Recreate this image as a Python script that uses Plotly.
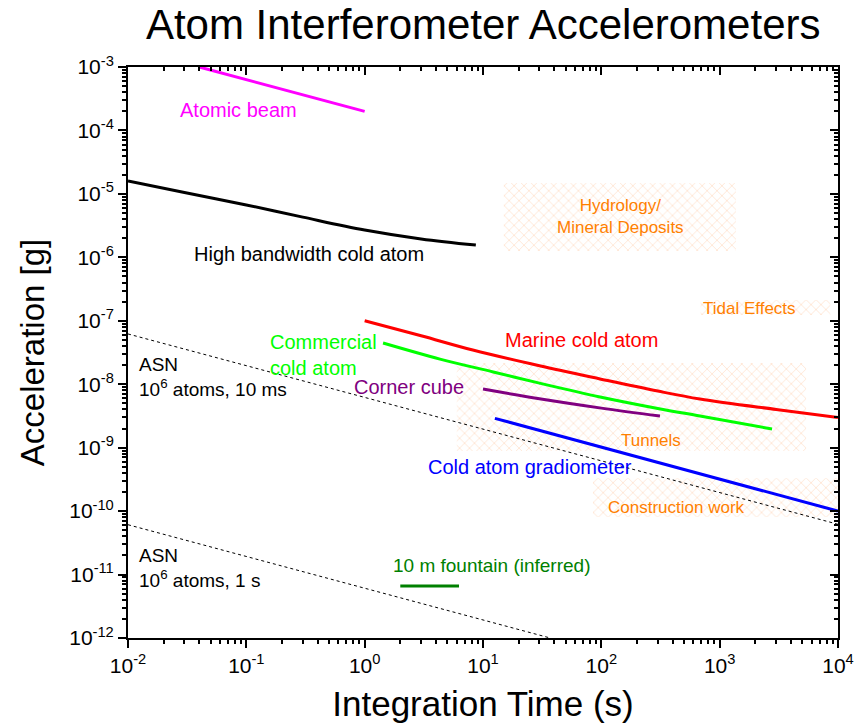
import plotly.graph_objects as go

# ---------------- data ----------------
beam_t = [0.04, 1.0]
beam_a = [1.0e-3, 2.0e-4]

hb_t = [0.01, 0.03, 0.1, 0.3, 1.0, 3.0, 8.7]
hb_a = [1.6e-5, 1.05e-5, 6.7e-6, 4.3e-6, 2.7e-6, 1.95e-6, 1.56e-6]

marine_t = [1.0, 3.0, 8.2, 30, 97.5, 300, 682, 3000, 10000]
marine_a = [1.0e-7, 5.8e-8, 3.46e-8, 1.95e-8, 1.21e-8, 7.8e-9, 5.85e-9, 4.0e-9, 3.0e-9]

comm_t = [1.43, 4.33, 12.2, 30, 97.5, 300, 682, 2770]
comm_a = [4.46e-8, 2.49e-8, 1.56e-8, 1.04e-8, 6.3e-9, 4.15e-9, 3.15e-9, 1.97e-9]

cube_t = [10, 30, 100, 313]
cube_a = [8.4e-9, 5.9e-9, 4.2e-9, 3.15e-9]

grad_t = [12.6, 10000]
grad_a = [2.9e-9, 1.0e-10]

fountain_t = [2.0, 6.27]
fountain_a = [6.6e-12, 6.6e-12]

asn10_t = [0.01, 10000]
asn10_a = [6.2e-8, 6.2e-11]

asn1_t = [0.01, 37]
asn1_a = [6.1e-11, 1.0e-12]

# hatched application regions: (t_min, t_max, a_min, a_max)
regions = {
    "Hydrology": (15, 1374, 1.26e-6, 1.48e-5),
    "Tidal": (690, 8600, 1.23e-7, 2.12e-7),
    "Tunnels": (6.0, 5370, 8.85e-10, 2.16e-8),
    "Construction": (85, 10000, 8.1e-11, 3.3e-10),
}

x_tickvals = [1e-2, 1e-1, 1e0, 1e1, 1e2, 1e3, 1e4]
x_ticktext = ["10<sup>-2</sup>", "10<sup>-1</sup>", "10<sup>0</sup>", "10<sup>1</sup>",
              "10<sup>2</sup>", "10<sup>3</sup>", "10<sup>4</sup>"]
y_tickvals = [10.0 ** e for e in range(-12, -2)]
y_ticktext = ["10<sup>%d</sup>" % e for e in range(-12, -2)]

FONT = "Arial, Liberation Sans, sans-serif"
ORANGE = "#FF8000"

fig = go.Figure()

for name, (t0, t1, a0, a1) in regions.items():
    fig.add_trace(go.Scatter(
        x=[t0, t1, t1, t0, t0], y=[a0, a0, a1, a1, a0],
        mode="lines", line=dict(width=0), fill="toself",
        fillcolor="rgba(255,255,255,0)",
        fillpattern=dict(shape="x", fgcolor="rgba(255,175,115,0.85)",
                         bgcolor="rgba(255,255,255,0)", size=7, solidity=0.18),
        hoverinfo="skip", showlegend=False))

def line(t, a, color, width=3, dash=None, smooth=True):
    ln = dict(color=color, width=width, dash=dash)
    if smooth:
        ln.update(shape="spline", smoothing=1.0)
    fig.add_trace(go.Scatter(x=t, y=a, mode="lines", line=ln,
                             showlegend=False, hoverinfo="skip"))

line(asn10_t, asn10_a, "black", 1, "3px,3px", smooth=False)
line(asn1_t, asn1_a, "black", 1, "3px,3px", smooth=False)
line(beam_t, beam_a, "#FF00FF", smooth=False)
line(hb_t, hb_a, "black")
line(marine_t, marine_a, "#FF0000")
line(comm_t, comm_a, "#00FF00")
line(cube_t, cube_a, "#800080")
line(grad_t, grad_a, "#0000FF", smooth=False)
line(fountain_t, fountain_a, "#008000", smooth=False)

# invisible trace to carry mirrored (inside) tick axes
fig.add_trace(go.Scatter(x=[0.01], y=[1e-3], xaxis="x2", yaxis="y2", mode="markers",
                         marker=dict(opacity=0), showlegend=False, hoverinfo="skip"))

def ann(x, y, text, color, size=20, align="center", xanchor="center"):
    fig.add_annotation(x=x, y=y, xref="x", yref="y", text=text, showarrow=False,
                       font=dict(family=FONT, size=size, color=color),
                       align=align, xanchor=xanchor, yanchor="middle")

# annotation positions are in log10 data units
ann(-1.070, -3.678, "Atomic beam", "#FF00FF")
ann(-0.470, -5.948, "High bandwidth cold atom", "black")
ann(2.158, -5.364, "Hydrology/<br>Mineral Deposits", ORANGE, 17)
ann(3.256, -6.799, "Tidal Effects", ORANGE, 17)
ann(1.830, -7.303, "Marine cold atom", "#FF0000")
ann(-0.817, -7.540, "Commercial<br>cold atom", "#00FF00", align="left", xanchor="left")
ann(0.375, -8.044, "Corner cube", "#800080")
ann(2.420, -8.880, "Tunnels", ORANGE, 17)
ann(1.397, -9.305, "Cold atom gradiometer", "#0000FF")
ann(2.631, -9.936, "Construction work", ORANGE, 17)
ann(-1.924, -7.887, "ASN<br>10<sup>6</sup> atoms, 10 ms", "black", 19, align="left", xanchor="left")
ann(-1.924, -10.897, "ASN<br>10<sup>6</sup> atoms, 1 s", "black", 19, align="left", xanchor="left")
ann(1.076, -10.850, "10 m fountain (inferred)", "#008000", 19)

axis_common = dict(type="log", showgrid=False, zeroline=False, automargin=False,
                   linecolor="black", linewidth=2, tickcolor="black", tickwidth=2,
                   ticklen=8)

fig.update_layout(
    width=859, height=724,
    margin=dict(l=128, r=21, t=67, b=86),
    paper_bgcolor="white", plot_bgcolor="white",
    font=dict(family=FONT, color="black"),
    title=dict(text="Atom Interferometer Accelerometers", x=0.5625, xanchor="center",
               y=0.987, yanchor="top", pad=dict(t=0, b=0),
               font=dict(family=FONT, size=42, color="black")),
    xaxis=dict(axis_common, range=[-2, 4], ticks="outside", mirror=True,
               tickvals=x_tickvals, ticktext=x_ticktext,
               tickfont=dict(size=21, family=FONT),
               minor=dict(ticks="outside", ticklen=4, tickwidth=1.5, dtick="D1", tickcolor="black"),
               title=dict(text="Integration Time (s)", font=dict(size=35, family=FONT))),
    yaxis=dict(axis_common, range=[-12, -3], ticks="outside", mirror=True,
               tickvals=y_tickvals, ticktext=y_ticktext,
               tickfont=dict(size=21, family=FONT),
               minor=dict(ticks="outside", ticklen=4, tickwidth=1.5, dtick="D1", tickcolor="black"),
               title=dict(text="Acceleration [g]", font=dict(size=33, family=FONT))),
    xaxis2=dict(axis_common, range=[-2, 4], overlaying="x", side="top", anchor="y2",
                ticks="inside", showticklabels=False, showline=False, tickvals=x_tickvals,
                minor=dict(ticks="inside", ticklen=4, tickwidth=1.5, dtick="D1", tickcolor="black")),
    yaxis2=dict(axis_common, range=[-12, -3], overlaying="y", side="right", anchor="x2",
                ticks="inside", showticklabels=False, showline=False, tickvals=y_tickvals,
                minor=dict(ticks="inside", ticklen=4, tickwidth=1.5, dtick="D1", tickcolor="black")),
)

fig.write_html("out.html")
